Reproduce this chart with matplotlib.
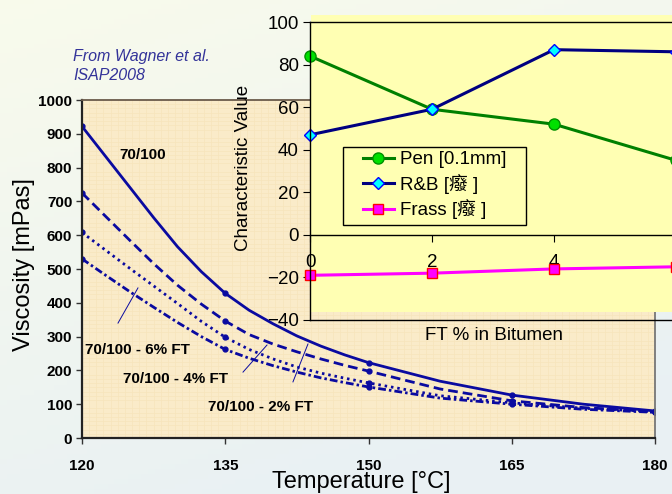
import numpy as np
import matplotlib
matplotlib.use("Agg")
import matplotlib.pyplot as plt
from matplotlib.patches import Rectangle
from matplotlib.font_manager import FontProperties

plt.rcParams['font.family'] = ['Liberation Sans', 'Noto Sans CJK TC', 'DejaVu Sans']

# 粘度数据 (°C / mPas)
temps = [120, 122.5, 125, 127.5, 130, 132.5, 135, 137.5, 140, 142.5, 145, 147.5,
         150, 157.5, 165, 172.5, 180]
visc_base = [922, 832, 742, 652, 566, 492, 428, 378, 338, 302, 272, 246,
             223, 168, 127, 100, 80]
visc_2ft = [725, 655, 585, 516, 452, 396, 346, 306, 278, 255, 234, 215,
            198, 145, 110, 90, 78]
visc_4ft = [608, 555, 502, 450, 398, 345, 298, 262, 234, 210, 192, 177,
            163, 125, 104, 88, 78]
visc_6ft = [530, 481, 433, 387, 342, 300, 262, 236, 214, 195, 178, 164,
            151, 118, 100, 85, 76]
mark_idx = [0, 6, 12, 14, 16]   # 实测点 120/135/150/165/180
x_ticks = [120, 135, 150, 165, 180]
y_ticks = list(range(0, 1001, 100))

# 插图数据
ft_pct = [0, 2, 4, 6]
pen = [84, 59, 52, 35]
rb = [47, 59, 87, 86]
frass = [-19, -18, -16, -15]
legend_labels = ['Pen [0.1mm]', 'R&B [癈 ]', 'Frass [癈 ]']

W, H = 672, 494
fig = plt.figure(figsize=(W / 100, H / 100), dpi=100)

def fx(px):
    return px / W

def fy(py):
    return 1 - py / H

# 背景渐变
bg = fig.add_axes([0, 0, 1, 1], zorder=-5)
bg.axis('off')
yy, xx = np.mgrid[0:1:100j, 0:1:100j]
top = np.array([0.975, 0.984, 0.925])
bot = np.array([0.915, 0.945, 0.955])
t = np.clip(yy * 0.85 + xx * 0.35, 0, 1)[..., None]
grad = top * (1 - t) + bot * t
bg.imshow(grad, aspect='auto', extent=[0, 1, 0, 1])
bg.set_xlim(0, 1)
bg.set_ylim(0, 1)

# 主图
ax = fig.add_axes([fx(82), fy(438), fx(655) - fx(82), fy(100) - fy(438)], zorder=0)
ax.set_facecolor('#FAEBC9')
ax.set_xlim(120, 180)
ax.set_ylim(0, 1000)
ax.set_xticks(np.arange(120, 180.1, 0.75), minor=True)
ax.set_yticks(np.arange(0, 1000, 12.5), minor=True)
ax.grid(which='minor', color='#F7E4BC', lw=0.5)
ax.tick_params(which='minor', length=0)

navy = '#0A0AA0'
kw = dict(color=navy, lw=2, marker='o', ms=3.5, markevery=mark_idx)
ax.plot(temps, visc_base, **kw)
ax.plot(temps, visc_2ft, dashes=(3.5, 1.8), **kw)
ax.plot(temps, visc_4ft, dashes=(0.9, 1.4), **kw)
ax.plot(temps, visc_6ft, dashes=(2.8, 1.1, 0.9, 1.1), **kw)

ax.set_xticks(x_ticks)
ax.set_yticks(y_ticks)
ax.tick_params(axis='both', labelsize=11, length=4, width=1, color='#333333')
ax.tick_params(axis='x', pad=11)
ax.tick_params(axis='y', pad=3)
for lab in ax.get_xticklabels() + ax.get_yticklabels():
    lab.set_fontweight('bold')
for s in ['left', 'bottom']:
    ax.spines[s].set_linewidth(1.6)
    ax.spines[s].set_color('#222222')
ax.spines['top'].set_color('#6A5A4A')
ax.spines['top'].set_linewidth(1.3)
ax.spines['right'].set_color('#777777')
ax.spines['right'].set_linewidth(1.3)

# 曲线标注
ax.text(123.87, 837, '70/100', fontsize=11, fontweight='bold', va='center')
ann = [('70/100 - 6% FT', 120.31, 260, (123.77, 340), (125.86, 444)),
       ('70/100 - 4% FT', 124.29, 175, (136.86, 195), (139.37, 275)),
       ('70/100 - 2% FT', 133.19, 92, (142.09, 166), (143.66, 278))]
for txt, tx, ty, p0, p1 in ann:
    ax.text(tx, ty, txt, fontsize=11, fontweight='bold', va='center')
    ax.plot([p0[0], p1[0]], [p0[1], p1[1]], color=navy, lw=0.7)

fig.text(fx(361), fy(482), 'Temperature [°C]', fontsize=17, ha='center', va='center')
fig.text(fx(24), fy(265), 'Viscosity [mPas]', fontsize=17, rotation=90, ha='center', va='center')
fig.text(fx(73), fy(56), 'From Wagner et al.', fontsize=11.5, style='italic',
         color='#333399', va='center')
fig.text(fx(73), fy(75), 'ISAP2008', fontsize=11.5, style='italic',
         color='#333399', va='center')

# 插图黄色底
yellow = '#FFFFB3'
fig.add_artist(Rectangle((fx(311), fy(312)), 1 - fx(311), fy(15) - fy(312),
                         transform=fig.transFigure, facecolor=yellow,
                         edgecolor='none', zorder=0.5))

ax2 = fig.add_axes([fx(310), fy(320), fx(676) - fx(310), fy(22) - fy(320)], zorder=1)
ax2.set_facecolor('none')
ax2.set_xlim(0, 6)
ax2.set_ylim(-40, 100)
ax2.set_yticks(range(-40, 101, 20))
ax2.set_xticks([0, 2, 4, 6])
ax2.set_xticklabels(['0', '2', '4', ''])
ax2.spines['bottom'].set_position(('data', 0))
ax2.axhline(-40, color='black', lw=1, clip_on=False)
for s in ax2.spines.values():
    s.set_linewidth(1)
ax2.tick_params(axis='both', labelsize=13.5, length=5)
ax2.tick_params(axis='x', pad=9)
ax2.tick_params(axis='y', pad=3)

l1, = ax2.plot(ft_pct, pen, color='#008000', lw=2.2, marker='o', ms=8,
               mfc='#00E000', mec='#009000', clip_on=False)
l2, = ax2.plot(ft_pct, rb, color='#000080', lw=2.2, marker='D', ms=6.5,
               mfc='#00FFFF', mec='#0000FF', clip_on=False)
l3, = ax2.plot(ft_pct, frass, color='#FF00FF', lw=2.2, marker='s', ms=7.5,
               mfc='#FF00FF', mec='#FF0000', clip_on=False)

fig.text(fx(494), fy(336), 'FT % in Bitumen', fontsize=13.5, ha='center', va='center')
fig.text(fx(243), fy(168), 'Characteristic Value', fontsize=13.5, rotation=90,
         ha='center', va='center')

# 图例框 (Excel 风格，左侧留白较大)
ax2.add_patch(Rectangle((fx(343), fy(225)), fx(526) - fx(343), fy(147) - fy(225),
                        transform=fig.transFigure, facecolor=yellow,
                        edgecolor='black', lw=1, zorder=2.5))
prop = FontProperties(family=['Liberation Sans', 'Noto Sans CJK TC'], size=13.5)
ax2.legend([l1, l2, l3], legend_labels, prop=prop, loc='upper left',
           bbox_to_anchor=(fx(363), fy(151)), bbox_transform=fig.transFigure,
           borderaxespad=0, borderpad=0, frameon=False,
           handlelength=1.65, handletextpad=0.3, labelspacing=0.3)

fig.savefig('out.png', dpi=100)
